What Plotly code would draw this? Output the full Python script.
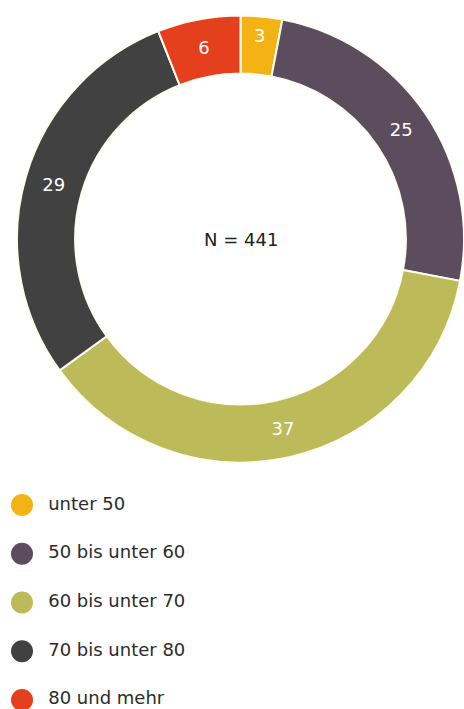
import plotly.graph_objects as go

categories = ["unter 50", "50 bis unter 60", "60 bis unter 70", "70 bis unter 80", "80 und mehr"]
values = [3, 25, 37, 29, 6]
colors = ["#F4B315", "#5C4D5E", "#BDBA5A", "#414141", "#E5401E"]
center_label = "N = 441"

W, H = 464, 709
FONT = "DejaVu Sans"

fig = go.Figure()

fig.add_trace(go.Pie(
    labels=categories,
    values=values,
    sort=False,
    direction="clockwise",
    rotation=0,
    hole=0.74,
    marker=dict(colors=colors, line=dict(color="#FFFDF0", width=2)),
    textinfo="value",
    textposition="inside",
    insidetextorientation="horizontal",
    textfont=dict(family=FONT, size=18, color="white"),
    showlegend=False,
    hoverinfo="label+value",
    domain=dict(x=[17 / W, 1.0], y=[(H - 239 - 225) / H, (H - 239 + 225) / H]),
))

# legend drawn as a scatter on hidden axes (circular markers)
fig.add_trace(go.Scatter(
    x=[0] * len(categories),
    y=categories,
    mode="markers+text",
    marker=dict(color=colors, size=22, line=dict(width=0)),
    text=["  " + c for c in categories],
    textposition="middle right",
    textfont=dict(family=FONT, size=18, color="#2b2b2b"),
    showlegend=False,
    hoverinfo="skip",
    cliponaxis=False,
))

fig.update_layout(
    width=W, height=H,
    margin=dict(l=0, r=0, t=0, b=0),
    paper_bgcolor="white",
    plot_bgcolor="white",
    xaxis=dict(visible=False, range=[-22, 442], domain=[0, 1], fixedrange=True),
    yaxis=dict(visible=False, type="category", range=[4.185, -0.513],
               domain=[0, (H - 480) / H], fixedrange=True),
    annotations=[dict(
        text=center_label, x=241 / W, y=(H - 239) / H, xref="paper", yref="paper",
        showarrow=False, font=dict(family=FONT, size=18, color="#222222"),
    )],
)

fig.write_html("out.html", config={"displayModeBar": False},
               post_script="document.body.style.margin='0';")
